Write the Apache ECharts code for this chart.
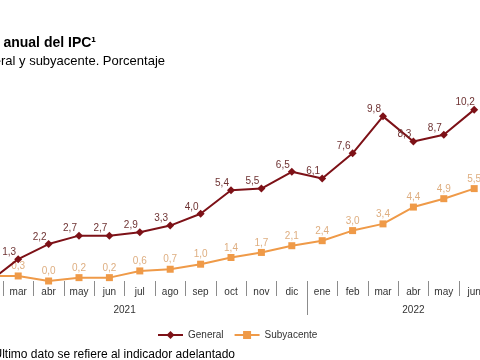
<!DOCTYPE html>
<html>
<head>
<meta charset="utf-8">
<script src="https://cdn.jsdelivr.net/npm/echarts@6/dist/echarts.min.js"></script>
<style>
html,body{margin:0;padding:0;background:#fff;}
#c{width:480px;height:360px;}
</style>
</head>
<body>
<div id="c"></div>
<script>
var months = ['ene','feb','mar','abr','may','jun','jul','ago','sep','oct','nov','dic','ene','feb','mar','abr','may','jun'];
var years = ['2021','2022'];
var general = [0.5, -0.1, 1.3, 2.2, 2.7, 2.7, 2.9, 3.3, 4.0, 5.4, 5.5, 6.5, 6.1, 7.6, 9.8, 8.3, 8.7, 10.2];
var subyacente = [0.6, 0.3, 0.3, 0.0, 0.2, 0.2, 0.6, 0.7, 1.0, 1.4, 1.7, 2.1, 2.4, 3.0, 3.4, 4.4, 4.9, 5.5];

var FONT = "'Liberation Sans', Arial, sans-serif";
var fmt = function (p) { return p.value.toFixed(1).replace('.', ','); };

var chart = echarts.init(document.getElementById('c'), null, {renderer: 'canvas'});
var option = {
  backgroundColor: '#ffffff',
  animation: false,
  textStyle: {fontFamily: FONT},
  grid: {left: -57.8, right: -9.4, top: 79.4, bottom: 79, outerBoundsMode: 'none', containLabel: false},
  legend: {
    left: 152, top: 325, itemWidth: 25, itemHeight: 10, itemGap: 10,
    textStyle: {fontSize: 10, color: '#333', fontFamily: FONT},
    data: ['General', 'Subyacente']
  },
  xAxis: {
    type: 'category', data: months, position: 'bottom', boundaryGap: true,
    axisLine: {show: false},
    axisTick: {show: true, interval: 0, length: 15, lineStyle: {color: '#8c8c8c', width: 1}},
    axisLabel: {interval: 0, margin: 6, fontSize: 10, color: '#333', fontFamily: FONT},
    splitLine: {show: false}
  },
  yAxis: {type: 'value', min: 0, max: 12, show: false, splitLine: {show: false}},
  series: [{
    name: 'General', type: 'line', data: general,
    symbol: 'diamond', symbolSize: 8,
    itemStyle: {color: '#7d1117'},
    lineStyle: {color: '#7d1117', width: 2},
    label: {show: true, position: 'top', distance: 0, offset: [-9, 2], formatter: fmt,
      fontSize: 10, color: '#6e3232', fontFamily: FONT},
    z: 3
  }, {
    name: 'Subyacente', type: 'line', data: subyacente,
    symbol: 'rect', symbolSize: 7,
    itemStyle: {color: '#ef9a48'},
    lineStyle: {color: '#ef9a48', width: 2},
    label: {show: true, position: 'top', distance: 1, formatter: fmt,
      fontSize: 10, color: '#deae80', fontFamily: FONT},
    z: 2
  }]
};
chart.setOption(option);

var px = function (i) { return chart.convertToPixel({xAxisIndex: 0}, i); };
var x2021 = (px(5) + px(6)) / 2;
var x2022 = px(15);
var xSep = Math.round((px(11) + px(12)) / 2) + 0.5;
var y0 = chart.convertToPixel({yAxisIndex: 0}, 0);

chart.setOption({
  graphic: [
    {type: 'line', shape: {x1: xSep, y1: y0, x2: xSep, y2: y0 + 34}, style: {stroke: '#8c8c8c', lineWidth: 1}},
    {type: 'text', style: {text: 'Tasa de variación anual del IPC¹', x: 96, y: 43, textAlign: 'right', textVerticalAlign: 'middle',
      font: 'bold 14px ' + FONT, fill: '#000'}},
    {type: 'text', style: {text: 'General y subyacente. Porcentaje', x: 165, y: 61, textAlign: 'right', textVerticalAlign: 'middle',
      font: '13px ' + FONT, fill: '#000'}},
    {type: 'text', style: {text: years[0], x: x2021, y: 310, textAlign: 'center', textVerticalAlign: 'middle',
      font: '10px ' + FONT, fill: '#333'}},
    {type: 'text', style: {text: years[1], x: x2022, y: 310, textAlign: 'center', textVerticalAlign: 'middle',
      font: '10px ' + FONT, fill: '#333'}},
    {type: 'text', style: {text: 'Último dato se refiere al indicador adelantado', x: 235, y: 355, textAlign: 'right', textVerticalAlign: 'middle',
      font: '12px ' + FONT, fill: '#000'}}
  ]
});
</script>
</body>
</html>
